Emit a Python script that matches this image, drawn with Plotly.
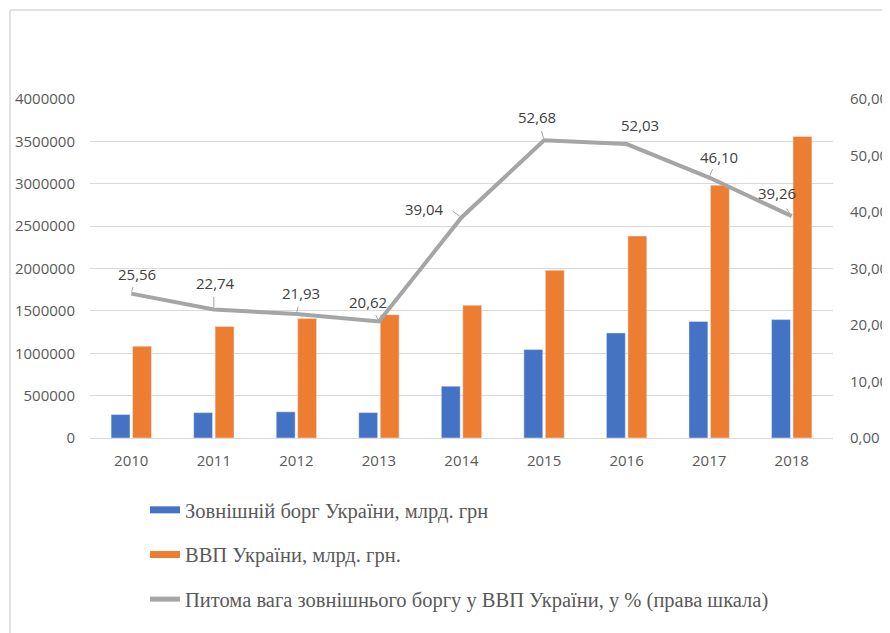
import plotly.graph_objects as go

years = ["2010", "2011", "2012", "2013", "2014", "2015", "2016", "2017", "2018"]
debt = [276705, 299395, 308969, 300007, 611651, 1042778, 1239970, 1375126, 1397148]
gdp = [1082569, 1316600, 1408889, 1454931, 1566728, 1979458, 2383182, 2982920, 3558706]
share = [25.56, 22.74, 21.93, 20.62, 39.04, 52.68, 52.03, 46.10, 39.26]
share_labels = ["25,56", "22,74", "21,93", "20,62", "39,04", "52,68", "52,03", "46,10", "39,26"]
label_dx = [6, 2, 5, -11, -37, -7, 13, 10, -15]
label_dy = [-20, -27, -21, -20, -8, -23, -19, -21, -23]
# leader line tails (offset from the point)
lead_dx = [2, 0, 2, -4, -10, -3, 0, 4, -6]
lead_dy = [-8, -14, -9, -8, -7, -11, 0, -10, -9]

left_ticks = [0, 500000, 1000000, 1500000, 2000000, 2500000, 3000000, 3500000, 4000000]
right_ticks = [0, 10, 20, 30, 40, 50, 60]
right_tick_text = ["0,00", "10,00", "20,00", "30,00", "40,00", "50,00", "60,00"]

names = ["Зовнішній борг України, млрд. грн",
         "ВВП України, млрд. грн.",
         "Питома вага зовнішнього боргу у ВВП України, у % (права шкала)"]
BLUE, ORANGE, GRAY = "#4472C4", "#ED7D31", "#A5A5A5"

# the page body adds an 8px offset, so the figure is 8px smaller and shifted
OFF = 8
W, H = 890 - OFF, 633 - OFF
PL, PR, PT, PB = 90 - OFF, 833 - OFF, 99 - OFF, 438 - OFF  # plot area in figure pixels
PW, PH = PR - PL, PB - PT

fig = go.Figure()
fig.add_trace(go.Bar(x=years, y=debt, marker_color=BLUE, showlegend=False, name=names[0]))
fig.add_trace(go.Bar(x=years, y=gdp, marker_color=ORANGE, showlegend=False, name=names[1]))
fig.add_trace(go.Scatter(x=years, y=share, yaxis="y2", mode="lines",
                         line=dict(color=GRAY, width=4), showlegend=False, name=names[2]))
# legend proxies
for nm, col, w, g in [(names[0], BLUE, 7, "a"), (names[1], ORANGE, 7, "b"), (names[2], GRAY, 5, "c")]:
    fig.add_trace(go.Scatter(x=[years[0]], y=[None], mode="lines", name=nm, legendgroup=g,
                             line=dict(color=col, width=w), showlegend=True))

for i, y in enumerate(years):
    if lead_dy[i] != 0 or lead_dx[i] != 0:
        fig.add_annotation(x=i, y=share[i], xref="x", yref="y2", text="",
                           showarrow=True, arrowhead=0, arrowwidth=1, arrowcolor=GRAY,
                           ax=lead_dx[i], ay=lead_dy[i], standoff=2)
    fig.add_annotation(x=i, y=share[i], xref="x", yref="y2", text=share_labels[i],
                       showarrow=False, xshift=label_dx[i], yshift=-label_dy[i],
                       xanchor="center", yanchor="middle",
                       font=dict(family="Open Sans", size=15, color="#404040"))

fx = lambda px: (px - OFF - PL) / PW
fy = lambda py: (PB - (py - OFF)) / PH

fig.update_layout(
    width=W, height=H,
    margin=dict(l=PL, r=W - PR, t=PT, b=H - PB, autoexpand=False),
    paper_bgcolor="white", plot_bgcolor="white",
    barmode="group", bargap=0.48, bargroupgap=0.12,
    font=dict(family="Open Sans", size=15, color="#595959"),
    xaxis=dict(type="category", categoryarray=years, categoryorder="array",
               range=[-0.5, len(years) - 0.5], showgrid=False, showline=False, ticks="",
               ticklabelstandoff=12, automargin=False,
               tickfont=dict(size=15, color="#595959")),
    yaxis=dict(range=[0, 4000000], tickvals=left_ticks, ticktext=[str(v) for v in left_ticks],
               showgrid=True, gridcolor="#D9D9D9", gridwidth=1, zeroline=True,
               zerolinecolor="#D9D9D9", zerolinewidth=1, showline=False, ticks="",
               ticklabelstandoff=14, automargin=False, tickfont=dict(size=15, color="#595959")),
    yaxis2=dict(range=[0, 60], overlaying="y", side="right", tickvals=right_ticks,
                ticktext=right_tick_text, showgrid=False, zeroline=False, showline=False,
                ticks="", ticklabelstandoff=16, automargin=False,
                tickfont=dict(size=15, color="#595959")),
    legend=dict(orientation="v", x=fx(145), xanchor="left", y=fy(490), yanchor="top",
                font=dict(family="Liberation Serif", size=20.5, color="#595959"),
                tracegroupgap=15, bgcolor="rgba(0,0,0,0)", itemwidth=30),
    shapes=[
        dict(type="line", xref="paper", yref="paper", x0=fx(10), x1=fx(900),
             y0=fy(10), y1=fy(10), line=dict(color="#D9D9D9", width=1.5)),
        dict(type="line", xref="paper", yref="paper", x0=fx(10), x1=fx(10),
             y0=fy(10), y1=fy(650), line=dict(color="#D9D9D9", width=1.5)),
    ],
)

fig.write_html("out.html")
